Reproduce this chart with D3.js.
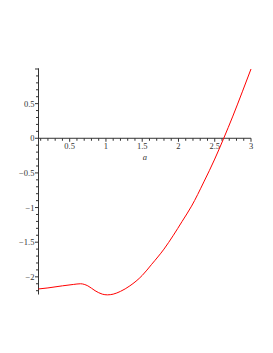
<html>
  <head>
    <meta charset="utf-8">
    <style>
      body { margin: 0; background: #fff; }
      text { font-family: "Liberation Serif", serif; font-size: 8.5px; fill: #333; }
    </style>
  </head>
  <body>
    <svg id="container" width="273" height="353"></svg>
  </body>
  <script src="https://cdn.jsdelivr.net/npm/d3@7"></script>
  <script>
    // curve: a -> value
    let aValues = [0.07, 0.2, 0.4, 0.55, 0.65, 0.75, 0.85, 0.95, 1.02, 1.1, 1.2, 1.33, 1.5,
                   1.63, 1.8, 1.93, 2.05, 2.18, 2.35, 2.5, 2.62, 2.75, 2.88, 3.0];
    let fValues = [-2.175, -2.16, -2.13, -2.11, -2.10, -2.13, -2.20, -2.25, -2.26, -2.25, -2.21, -2.13, -1.98,
                   -1.82, -1.60, -1.40, -1.20, -0.98, -0.63, -0.30, -0.01, 0.32, 0.67, 1.0];
    let xTickLabels = [0.5, 1, 1.5, 2, 2.5, 3];
    let yTickLabels = [-2, -1.5, -1, -0.5, 0, 0.5];

    let svg = d3.select("#container");
    let data = aValues.map((a, i) => ({ a: a, f: fValues[i] }));

    let xScale = d3.scaleLinear().domain([0.07, 3]).range([38.5, 251]);
    let yScale = d3.scaleLinear().domain([-2.255, 1.01]).range([294.5, 68.3]);

    let fmt = d => String(d).replace("-", "−");

    // x axis through y = 0
    let xAxis = svg.append("g").attr("transform", "translate(0," + yScale(0) + ")");
    xAxis.append("line")
        .attr("x1", xScale(0.07)).attr("x2", xScale(3))
        .attr("stroke", "#333");
    xAxis.selectAll(".minor")
        .data(d3.range(1, 31).map(d => d / 10))
        .join("line")
        .attr("x1", d => xScale(d)).attr("x2", d => xScale(d))
        .attr("y1", 0).attr("y2", d => Math.abs(d * 2 - Math.round(d * 2)) < 1e-6 ? 3.5 : 2.5)
        .attr("stroke", "#333");
    xAxis.selectAll(".lab")
        .data(xTickLabels)
        .join("text")
        .attr("x", d => xScale(d))
        .attr("y", 11)
        .attr("text-anchor", "middle")
        .text(fmt);
    svg.append("text")
        .attr("x", (xScale(0.07) + xScale(3)) / 2)
        .attr("y", 160)
        .attr("text-anchor", "middle")
        .style("font-style", "italic")
        .text("a");

    // y axis at the left edge
    let yAxis = svg.append("g").attr("transform", "translate(" + xScale(0.07) + ",0)");
    yAxis.append("line")
        .attr("y1", yScale(-2.255)).attr("y2", yScale(1.01))
        .attr("stroke", "#333");
    yAxis.selectAll(".minor")
        .data(d3.range(-22, 11).map(d => d / 10))
        .join("line")
        .attr("y1", d => yScale(d)).attr("y2", d => yScale(d))
        .attr("x1", 0).attr("x2", d => Math.abs(d * 2 - Math.round(d * 2)) < 1e-6 ? -3.5 : -2.5)
        .attr("stroke", "#333");
    yAxis.selectAll(".lab")
        .data(yTickLabels)
        .join("text")
        .attr("x", -4)
        .attr("y", d => yScale(d) + 3)
        .attr("text-anchor", "end")
        .text(fmt);

    let line = d3.line()
        .x(d => xScale(d.a))
        .y(d => yScale(d.f))
        .curve(d3.curveMonotoneX);
    svg.append("path")
        .datum(data)
        .attr("d", line)
        .attr("fill", "none")
        .attr("stroke", "#ff0000")
        .attr("stroke-width", 1);
  </script>
</html>
